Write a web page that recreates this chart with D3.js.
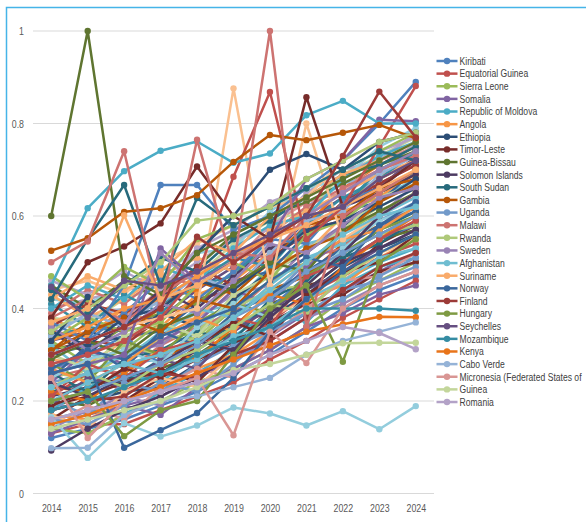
<!DOCTYPE html>
<html><head><meta charset="utf-8">
<script src="https://cdn.jsdelivr.net/npm/d3@7/dist/d3.min.js"></script>
<style>
html,body{margin:0;padding:0;background:#fff;}
svg{display:block;}
text{font-family:"Liberation Sans","Arial",sans-serif;}
</style></head>
<body>
<svg id="chart" width="586" height="522"></svg>
<script>
// ---------- DATA ----------
const years = ["2014","2015","2016","2017","2018","2019","2020","2021","2022","2023","2024"];
const yTicks = [0, 0.2, 0.4, 0.6, 0.8, 1];

const legendNames = ["Kiribati","Equatorial Guinea","Sierra Leone","Somalia","Republic of Moldova","Angola",
  "Ethiopia","Timor-Leste","Guinea-Bissau","Solomon Islands","South Sudan","Gambia","Uganda","Malawi",
  "Rwanda","Sweden","Afghanistan","Suriname","Norway","Finland","Hungary","Seychelles","Mozambique",
  "Kenya","Cabo Verde","Micronesia (Federated States of","Guinea","Romania"];

const palette = ["#4f81bd","#c0504d","#9bbb59","#8064a2","#4bacc6","#f79646",
  "#2c4d75","#772c2a","#5f7530","#4d3b62","#276a7c","#b65708",
  "#729aca","#cd7371","#afc97a","#9983b5","#6fbdd1","#f9ab6b",
  "#3a679c","#9c3b38","#7e9a42","#664f81","#358ca3","#e8741a",
  "#95b3d7","#d99694","#c3d69b","#b3a2c7","#93cddd","#fac090"];

const kiribati          = [0.30,0.33,0.45,0.667,0.667,0.57,0.60,0.66,0.72,0.80,0.89];
const equatorialGuinea  = [0.28,0.30,0.33,0.38,0.47,0.685,0.868,0.55,0.62,0.75,0.881];
const sierraLeone       = [0.47,0.42,0.49,0.45,0.55,0.58,0.62,0.66,0.70,0.74,0.78];
const somalia           = [0.26,0.28,0.30,0.53,0.46,0.50,0.55,0.68,0.72,0.808,0.805];
const moldova           = [0.45,0.617,0.697,0.741,0.761,0.715,0.735,0.818,0.849,0.80,0.80];
const angola            = [0.33,0.36,0.40,0.42,0.47,0.52,0.55,0.60,0.62,0.68,0.72];
const ethiopia          = [0.33,0.425,0.36,0.43,0.52,0.60,0.70,0.734,0.70,0.76,0.78];
const timorLeste        = [0.38,0.50,0.534,0.584,0.707,0.60,0.55,0.857,0.62,0.66,0.72];
const guineaBissau      = [0.60,1.00,0.47,0.43,0.52,0.56,0.60,0.64,0.68,0.72,0.76];
const solomonIslands    = [0.093,0.14,0.18,0.21,0.25,0.30,0.38,0.45,0.52,0.60,0.65];
const southSudan        = [0.42,0.55,0.667,0.45,0.639,0.58,0.62,0.66,0.70,0.74,0.72];
const gambia            = [0.525,0.552,0.609,0.617,0.645,0.717,0.775,0.764,0.78,0.797,0.768];
const uganda            = [0.20,0.22,0.25,0.28,0.32,0.38,0.42,0.48,0.52,0.56,0.60];
const malawi            = [0.50,0.545,0.74,0.40,0.765,0.49,1.00,0.36,0.60,0.65,0.70];
const rwanda            = [0.35,0.40,0.45,0.50,0.59,0.60,0.62,0.68,0.72,0.76,0.78];
const sweden            = [0.30,0.33,0.36,0.52,0.45,0.50,0.55,0.60,0.65,0.70,0.74];
const afghanistan       = [0.23,0.26,0.28,0.30,0.33,0.38,0.44,0.50,0.56,0.60,0.62];
const suriname          = [0.37,0.40,0.602,0.42,0.45,0.50,0.55,0.58,0.62,0.66,0.70];
const norway            = [0.26,0.28,0.099,0.137,0.174,0.25,0.35,0.42,0.48,0.52,0.56];
const finland           = [0.30,0.33,0.36,0.40,0.555,0.50,0.55,0.60,0.73,0.869,0.77];
const hungary           = [0.20,0.22,0.124,0.18,0.20,0.30,0.40,0.45,0.285,0.50,0.55];
const seychelles        = [0.447,0.38,0.46,0.45,0.48,0.52,0.56,0.60,0.62,0.68,0.72];
const mozambique        = [0.18,0.20,0.23,0.26,0.30,0.33,0.36,0.40,0.40,0.40,0.395];
const kenya             = [0.15,0.17,0.20,0.23,0.26,0.29,0.32,0.35,0.366,0.382,0.381];
const caboVerde         = [0.098,0.099,0.17,0.20,0.21,0.23,0.25,0.30,0.33,0.35,0.37];
const micronesia        = [0.25,0.12,0.20,0.22,0.25,0.126,0.35,0.282,0.40,0.45,0.48];
const guinea            = [0.14,0.16,0.18,0.20,0.23,0.267,0.28,0.30,0.325,0.326,0.326];
const romania           = [0.16,0.18,0.20,0.22,0.24,0.26,0.30,0.33,0.36,0.347,0.312];

const legendValues = [kiribati,equatorialGuinea,sierraLeone,somalia,moldova,angola,ethiopia,timorLeste,
  guineaBissau,solomonIslands,southSudan,gambia,uganda,malawi,rwanda,sweden,afghanistan,suriname,norway,
  finland,hungary,seychelles,mozambique,kenya,caboVerde,micronesia,guinea,romania];

// two further distinctive series (not shown in the truncated legend)
const lowAquaSeries   = [0.165,0.077,0.152,0.123,0.147,0.186,0.173,0.147,0.178,0.139,0.189];
const peachSpikeSeries= [0.30,0.33,0.36,0.38,0.40,0.876,0.45,0.80,0.55,0.60,0.65];

// the remaining mass of series (beyond the truncated legend)
const extraValues = [
  [0.12,0.14,0.16,0.19,0.22,0.26,0.30,0.35,0.40,0.44,0.47],
  [0.13,0.15,0.15,0.18,0.21,0.24,0.29,0.33,0.38,0.42,0.46],
  [0.14,0.13,0.17,0.20,0.24,0.27,0.31,0.36,0.42,0.46,0.50],
  [0.15,0.17,0.19,0.21,0.25,0.29,0.34,0.39,0.44,0.48,0.52],
  [0.16,0.18,0.17,0.22,0.26,0.31,0.36,0.40,0.46,0.50,0.53],
  [0.17,0.16,0.20,0.24,0.27,0.30,0.35,0.42,0.45,0.51,0.55],
  [0.18,0.20,0.22,0.23,0.28,0.33,0.38,0.43,0.49,0.53,0.56],
  [0.19,0.21,0.20,0.25,0.29,0.32,0.40,0.45,0.47,0.54,0.58],
  [0.20,0.19,0.23,0.27,0.30,0.35,0.41,0.44,0.50,0.55,0.57],
  [0.21,0.23,0.25,0.26,0.31,0.37,0.39,0.46,0.52,0.56,0.60],
  [0.22,0.24,0.24,0.29,0.33,0.36,0.43,0.48,0.51,0.57,0.61],
  [0.23,0.22,0.27,0.30,0.32,0.38,0.44,0.47,0.54,0.58,0.62],
  [0.24,0.26,0.28,0.29,0.35,0.40,0.42,0.50,0.55,0.59,0.63],
  [0.25,0.27,0.26,0.32,0.36,0.39,0.46,0.51,0.53,0.61,0.64],
  [0.26,0.25,0.30,0.33,0.35,0.42,0.47,0.49,0.57,0.62,0.66],
  [0.27,0.29,0.31,0.32,0.38,0.43,0.45,0.53,0.58,0.60,0.67],
  [0.28,0.30,0.29,0.35,0.39,0.41,0.49,0.54,0.56,0.64,0.68],
  [0.29,0.28,0.33,0.36,0.38,0.45,0.50,0.52,0.60,0.65,0.69],
  [0.30,0.32,0.34,0.35,0.41,0.46,0.48,0.56,0.61,0.63,0.70],
  [0.31,0.33,0.32,0.38,0.42,0.44,0.52,0.57,0.59,0.67,0.71],
  [0.32,0.31,0.36,0.39,0.41,0.48,0.53,0.55,0.63,0.68,0.72],
  [0.33,0.35,0.37,0.38,0.44,0.49,0.51,0.59,0.64,0.66,0.73],
  [0.34,0.36,0.35,0.41,0.45,0.47,0.55,0.60,0.62,0.70,0.74],
  [0.35,0.34,0.39,0.42,0.44,0.51,0.56,0.58,0.66,0.71,0.75],
  [0.36,0.38,0.40,0.41,0.47,0.52,0.54,0.62,0.67,0.69,0.76],
  [0.37,0.39,0.38,0.44,0.48,0.50,0.58,0.63,0.65,0.72,0.75],
  [0.38,0.37,0.42,0.45,0.47,0.54,0.59,0.61,0.69,0.73,0.77],
  [0.40,0.42,0.44,0.45,0.50,0.55,0.57,0.65,0.70,0.72,0.78],
  [0.42,0.41,0.45,0.48,0.52,0.53,0.61,0.66,0.68,0.75,0.79],
  [0.44,0.46,0.43,0.50,0.54,0.58,0.62,0.64,0.72,0.76,0.78],
  [0.27,0.30,0.34,0.28,0.31,0.36,0.40,0.47,0.50,0.55,0.58],
  [0.21,0.26,0.22,0.27,0.34,0.31,0.37,0.43,0.47,0.51,0.54],
  [0.33,0.28,0.31,0.37,0.33,0.40,0.46,0.50,0.56,0.61,0.65],
  [0.24,0.31,0.28,0.33,0.37,0.44,0.41,0.49,0.55,0.57,0.63],
  [0.18,0.23,0.26,0.24,0.30,0.34,0.39,0.37,0.45,0.49,0.51],
  [0.38,0.34,0.40,0.36,0.43,0.46,0.52,0.57,0.61,0.64,0.70],
  [0.29,0.35,0.33,0.39,0.36,0.42,0.48,0.52,0.58,0.62,0.66],
  [0.16,0.21,0.24,0.27,0.24,0.32,0.37,0.41,0.43,0.48,0.50],
  [0.45,0.40,0.46,0.42,0.49,0.56,0.60,0.63,0.67,0.71,0.74],
  [0.35,0.30,0.37,0.44,0.40,0.47,0.53,0.55,0.62,0.65,0.69],
  [0.26,0.22,0.29,0.31,0.35,0.33,0.42,0.46,0.51,0.54,0.59],
  [0.31,0.37,0.35,0.40,0.46,0.43,0.50,0.58,0.60,0.66,0.68],
  [0.20,0.17,0.24,0.22,0.28,0.32,0.35,0.39,0.44,0.46,0.49],
  [0.39,0.44,0.41,0.47,0.45,0.50,0.56,0.62,0.66,0.70,0.73],
  [0.23,0.27,0.32,0.30,0.34,0.40,0.44,0.45,0.52,0.56,0.58],
  [0.14,0.18,0.21,0.19,0.26,0.29,0.33,0.38,0.41,0.45,0.48],
  [0.32,0.26,0.30,0.34,0.40,0.38,0.45,0.51,0.54,0.60,0.64],
  [0.43,0.38,0.42,0.47,0.51,0.48,0.57,0.61,0.65,0.69,0.72],
  [0.25,0.32,0.27,0.35,0.32,0.39,0.43,0.48,0.53,0.58,0.61],
  [0.36,0.41,0.39,0.43,0.49,0.45,0.51,0.56,0.63,0.67,0.71],
  [0.28,0.24,0.33,0.30,0.37,0.41,0.39,0.47,0.52,0.57,0.60],
  [0.19,0.25,0.23,0.29,0.27,0.35,0.40,0.44,0.48,0.53,0.57],
  [0.41,0.36,0.43,0.39,0.46,0.51,0.49,0.58,0.64,0.68,0.74],
  [0.22,0.20,0.26,0.31,0.29,0.36,0.43,0.41,0.49,0.55,0.60],
  [0.34,0.39,0.36,0.42,0.47,0.44,0.52,0.59,0.61,0.69,0.73],
  [0.15,0.19,0.16,0.23,0.27,0.25,0.34,0.40,0.46,0.47,0.52],
  [0.30,0.27,0.34,0.37,0.34,0.43,0.47,0.53,0.57,0.64,0.67],
  [0.46,0.43,0.48,0.44,0.53,0.57,0.63,0.66,0.70,0.74,0.77],
  [0.25,0.29,0.31,0.28,0.36,0.41,0.38,0.45,0.53,0.59,0.62],
  [0.17,0.14,0.22,0.25,0.23,0.30,0.38,0.42,0.46,0.52,0.55],
  [0.37,0.33,0.39,0.46,0.42,0.48,0.55,0.54,0.63,0.66,0.72],
  [0.21,0.28,0.25,0.31,0.33,0.38,0.36,0.47,0.50,0.55,0.59],
  [0.33,0.38,0.35,0.37,0.45,0.50,0.46,0.56,0.59,0.65,0.70],
  [0.13,0.16,0.19,0.17,0.23,0.27,0.31,0.36,0.39,0.43,0.45],
  [0.40,0.45,0.42,0.49,0.46,0.53,0.58,0.60,0.68,0.73,0.76],
  [0.27,0.24,0.28,0.34,0.38,0.35,0.44,0.50,0.55,0.57,0.62],
  [0.35,0.32,0.38,0.40,0.46,0.44,0.50,0.57,0.59,0.63,0.68],
  [0.19,0.22,0.27,0.25,0.32,0.37,0.34,0.43,0.48,0.50,0.56],
  [0.29,0.33,0.30,0.36,0.39,0.45,0.50,0.48,0.57,0.61,0.65],
  [0.24,0.21,0.25,0.28,0.33,0.31,0.39,0.44,0.50,0.53,0.57],
  [0.44,0.39,0.45,0.51,0.48,0.55,0.59,0.64,0.69,0.71,0.75],
  [0.31,0.35,0.38,0.35,0.42,0.40,0.48,0.53,0.56,0.63,0.67],
  [0.16,0.15,0.19,0.24,0.22,0.28,0.35,0.39,0.42,0.47,0.51],
  [0.38,0.42,0.37,0.43,0.48,0.52,0.51,0.60,0.65,0.70,0.73],
  [0.23,0.26,0.23,0.28,0.31,0.36,0.41,0.39,0.47,0.52,0.56],
  [0.36,0.31,0.35,0.41,0.39,0.46,0.54,0.52,0.58,0.64,0.66],
  [0.20,0.24,0.28,0.26,0.29,0.34,0.36,0.42,0.46,0.51,0.53],
  [0.42,0.47,0.44,0.48,0.55,0.52,0.60,0.64,0.69,0.72,0.76],
  [0.27,0.31,0.29,0.34,0.37,0.40,0.46,0.51,0.49,0.58,0.63],
  [0.18,0.20,0.21,0.26,0.25,0.30,0.33,0.38,0.44,0.49,0.52]
];

// ---------- BUILD ----------
const AXIS_SX = 0.8;     // narrow (Calibri-like) text
const LEGEND_SX = 0.78;
const series = [];
extraValues.forEach((v,i)=>series.push({values:v, color:palette[i % palette.length]}));
series.push({values:lowAquaSeries, color:"#93cddd"});
series.push({values:peachSpikeSeries, color:"#fac090"});
legendValues.forEach((v,i)=>series.push({values:v, color:palette[i]}));

const svg = d3.select("#chart");
// outer frame
svg.append("rect").attr("x",6.5).attr("y",7.5).attr("width",620).attr("height",560)
  .attr("fill","none").attr("stroke","#45b4e8").attr("stroke-width",1.5);

const x = d3.scalePoint().domain(years).range([33,434]).padding(0.5);
const y = d3.scaleLinear().domain([0,1]).range([493.5,31]);

// gridlines
svg.append("g").selectAll("line").data(yTicks).join("line")
  .attr("x1",33).attr("x2",434)
  .attr("y1",d=>y(d)).attr("y2",d=>y(d))
  .attr("stroke","#d9d9d9").attr("stroke-width",1);

// y axis labels
const yAxis = svg.append("g").attr("transform","translate(24,0)")
  .call(d3.axisLeft(y).tickValues(yTicks).tickSize(0).tickPadding(0).tickFormat(d=>d3.format("")(d)));
yAxis.select(".domain").remove();
yAxis.selectAll("text").attr("fill","#595959").attr("font-size","11px")
  .attr("transform",`scale(${AXIS_SX},1)`);

// x axis labels
const xAxis = svg.append("g").attr("transform","translate(0,501)")
  .call(d3.axisBottom(x).tickSize(0).tickPadding(3));
xAxis.select(".domain").remove();
xAxis.selectAll("text").attr("fill","#595959").attr("font-size","11px")
  .attr("transform",`scale(${AXIS_SX},1)`);

const line = d3.line().x((d,i)=>x(years[i])).y(d=>y(d));

const g = svg.append("g");
series.forEach(s=>{
  const sg = g.append("g");
  sg.append("path").attr("d",line(s.values)).attr("fill","none")
    .attr("stroke",s.color).attr("stroke-width",2.5).attr("stroke-linejoin","round");
  sg.selectAll("circle").data(s.values).join("circle")
    .attr("cx",(d,i)=>x(years[i])).attr("cy",d=>y(d)).attr("r",3.2).attr("fill",s.color);
});

// legend
const leg = svg.append("g");
legendNames.forEach((n,i)=>{
  const yy = 61 + i*12.63;
  leg.append("line").attr("x1",436.5).attr("x2",457.5).attr("y1",yy).attr("y2",yy)
    .attr("stroke",palette[i]).attr("stroke-width",2.5);
  leg.append("circle").attr("cx",447).attr("cy",yy).attr("r",3.2).attr("fill",palette[i]);
  leg.append("g").attr("transform",`translate(459.5,${yy}) scale(${LEGEND_SX},1)`)
    .append("text").attr("dy","0.35em")
    .attr("font-size","11px").attr("fill","#404040").text(n);
});
</script>
</body></html>
